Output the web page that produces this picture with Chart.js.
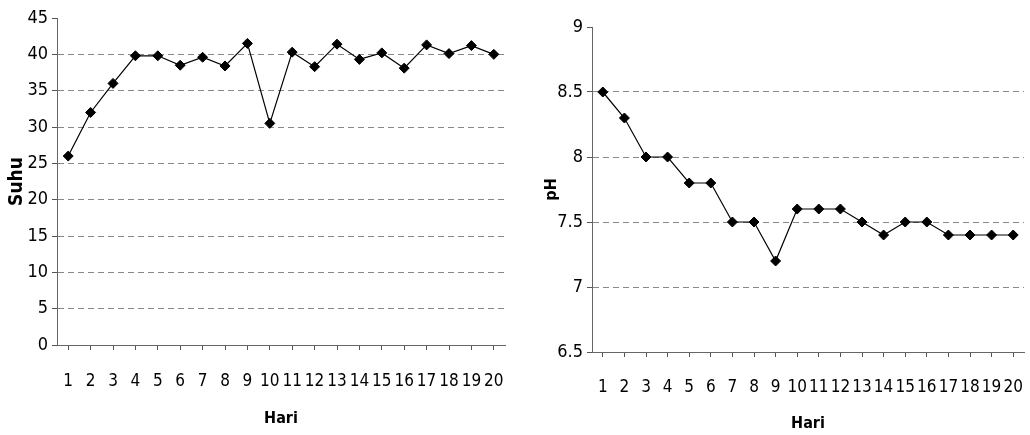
<!DOCTYPE html>
<html><head><meta charset="utf-8">
<script src="https://cdn.jsdelivr.net/npm/chart.js@4.4.1/dist/chart.umd.min.js"></script>
<style>
html,body{margin:0;padding:0;background:#fff;width:1030px;height:435px;overflow:hidden}
.box{position:absolute;top:0;width:515px;height:435px}
#b1{left:0}#b2{left:515px}
</style></head><body>
<div class="box" id="b1"><canvas id="c1" width="515" height="435"></canvas></div>
<div class="box" id="b2"><canvas id="c2" width="515" height="435"></canvas></div>
<script>
const days = ['1','2','3','4','5','6','7','8','9','10','11','12','13','14','15','16','17','18','19','20'];
const suhu = [26, 32, 36, 39.8, 39.8, 38.5, 39.6, 38.4, 41.5, 30.5, 40.3, 38.3, 41.4, 39.3, 40.2, 38.1, 41.3, 40.1, 41.2, 40.0];
const ph = [8.5, 8.3, 8.0, 8.0, 7.8, 7.8, 7.5, 7.5, 7.2, 7.6, 7.6, 7.6, 7.5, 7.4, 7.5, 7.5, 7.4, 7.4, 7.4, 7.4];
const suhuAxis = [0, 45, 5];   // min, max, step
const phAxis = [6.5, 9, 0.5];
const xTitle = 'Hari';
const suhuTitle = 'Suhu';
const phTitle = 'pH';

const FONT = "'DejaVu Sans', sans-serif";

function makeChart(id, values, axis, yTitle, cfg) {
  return new Chart(document.getElementById(id), {
    type: 'line',
    data: {
      labels: days,
      datasets: [{
        data: values,
        borderColor: '#000',
        backgroundColor: '#000',
        borderWidth: 1.2,
        pointStyle: 'rectRot',
        pointRadius: 5,
        pointBorderWidth: 1,
        pointBackgroundColor: '#000',
        pointBorderColor: '#000',
        tension: 0,
        fill: false
      }]
    },
    options: {
      responsive: false,
      animation: false,
      devicePixelRatio: 1,
      plugins: { legend: { display: false }, tooltip: { enabled: false } },
      layout: { padding: { top: cfg.top, right: cfg.right, left: 0, bottom: 0 } },
      scales: {
        x: {
          type: 'category',
          offset: true,
          afterFit: s => { s.height = cfg.xh; s.paddingLeft = 0; s.paddingRight = 0; },
          grid: { drawOnChartArea: false, drawTicks: true, tickLength: 5, color: '#555' },
          border: { display: true, color: '#666', width: 1 },
          ticks: { color: '#000', padding: cfg.xpad, maxRotation: 0, autoSkip: false,
                   font: { family: FONT, size: 17, weight: 'condensed' } },
          title: { display: true, text: xTitle, color: '#000',
                   font: { family: FONT, size: 16, weight: 'bold condensed' },
                   padding: { top: 0, bottom: cfg.xtb } }
        },
        y: {
          min: axis[0], max: axis[1],
          afterFit: s => { s.width = cfg.yw; },
          grid: {
            drawTicks: true, tickLength: 5,
            color: c => (c.tick && (c.tick.value === axis[1] || c.tick.value === axis[0])) ? 'rgba(0,0,0,0)' : '#888',
            tickColor: '#555'
          },
          border: { display: true, color: '#666', width: 1, dash: [6, 4] },
          ticks: { stepSize: axis[2], color: '#000', padding: 4,
                   callback: v => String(v),
                   font: { family: FONT, size: 18, weight: 'condensed' } },
          title: { display: true, text: yTitle, color: '#000',
                   font: { family: FONT, size: cfg.ytSize, weight: 'bold condensed' },
                   padding: { top: cfg.ytp, bottom: 0 } }
        }
      }
    }
  });
}

makeChart('c1', suhu, suhuAxis, suhuTitle, { top: 18, right: 10, xh: 90, xpad: 21, xtb: 7, yw: 57, ytSize: 19, ytp: 6 });
makeChart('c2', ph, phAxis, phTitle, { top: 27, right: 0, xh: 83, xpad: 20, xtb: 2, yw: 77, ytSize: 16, ytp: 27 });
</script>
</body></html>
